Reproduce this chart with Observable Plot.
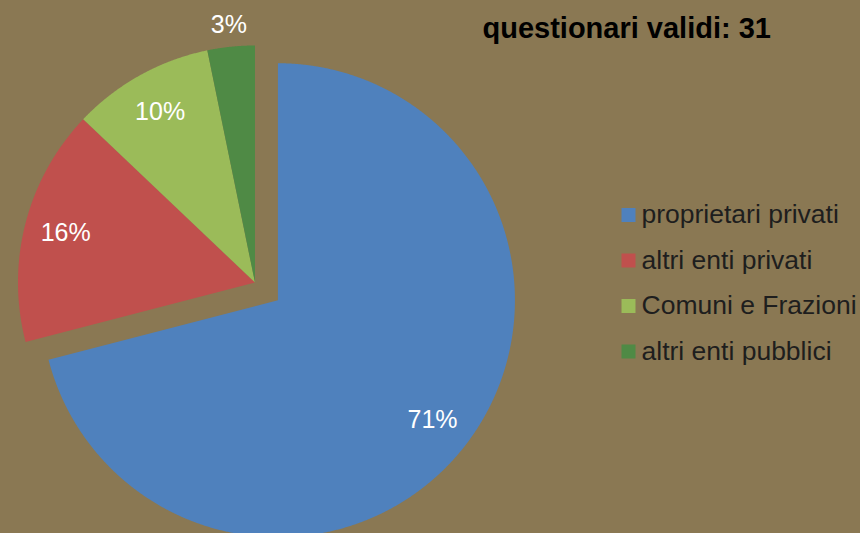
<!DOCTYPE html>
<html><head><meta charset="utf-8">
<script src="https://cdn.jsdelivr.net/npm/d3@7"></script>
<script src="https://cdn.jsdelivr.net/npm/@observablehq/plot@0.6"></script>
<style>html,body{margin:0;padding:0;background:#8A7853;overflow:hidden;}</style>
</head><body><div id="chart"></div>
<script>
const categories = ["proprietari privati", "altri enti privati", "Comuni e Frazioni", "altri enti pubblici"];
const counts = [22, 5, 3, 1];
const labels = ["71%", "16%", "10%", "3%"];
const colors = ["#4F81BD", "#C0504D", "#9BBB59", "#4F8A45"];
const title = "questionari validi: 31";

const W = 860, H = 533, R = 237, CX = 254.5, CY = 282;
const explode = 29 / R;
const arcs = d3.pie().sort(null).value(d => d.count)(
  categories.map((c, i) => ({cat: c, count: counts[i], label: labels[i]}))
);
const pts = [], lab = [];
arcs.forEach((a, i) => {
  const mid = (a.startAngle + a.endAngle) / 2;
  const off = i === 0 ? explode : 0;
  const ox = off * Math.sin(mid), oy = off * Math.cos(mid);
  pts.push({cat: a.data.cat, x: ox, y: oy});
  const n = Math.max(2, Math.ceil((a.endAngle - a.startAngle) / 0.004));
  for (let k = 0; k <= n; k++) {
    const t = a.startAngle + (a.endAngle - a.startAngle) * k / n;
    pts.push({cat: a.data.cat, x: ox + Math.sin(t), y: oy + Math.cos(t)});
  }
  pts.push({cat: a.data.cat, x: ox, y: oy});
  const share = (a.endAngle - a.startAngle) / (2 * Math.PI);
  const lr = share < 0.05 ? 1.09 : 0.825;
  lab.push({label: a.data.label, x: ox + lr * Math.sin(mid), y: oy + lr * Math.cos(mid)});
});

const plot = Plot.plot({
  width: W, height: H, margin: 0,
  style: {background: "#8A7853", fontFamily: "'Liberation Sans', Arial, sans-serif"},
  x: {domain: [-CX / R, (W - CX) / R], axis: null},
  y: {domain: [-(H - CY) / R, CY / R], axis: null},
  color: {domain: categories, range: colors},
  marks: [
    Plot.line(pts, {x: "x", y: "y", z: "cat", fill: "cat", stroke: "none"}),
    Plot.text(lab, {x: "x", y: "y", text: "label", fill: "white", fontSize: 25, lineAnchor: "middle"}),
    Plot.text([title], {text: d => d, frameAnchor: "top-left", dx: 482, dy: 28, textAnchor: "start",
      lineAnchor: "middle", fontSize: 29, fontWeight: "bold", fill: "black"}),
    ...categories.map((c, i) => Plot.dot([c], {frameAnchor: "top-left", dx: 628, dy: 214.5 + i * 45.5,
      symbol: "square", r: 7.9, fill: d => d, stroke: "none"})),
    ...categories.map((c, i) => Plot.text([c], {text: d => d, frameAnchor: "top-left", dx: 641, dy: 214.5 + i * 45.5,
      textAnchor: "start", lineAnchor: "middle", fontSize: 26.5, fill: "#1E1E1E"}))
  ]
});
document.getElementById("chart").appendChild(plot);
</script>
</body></html>
